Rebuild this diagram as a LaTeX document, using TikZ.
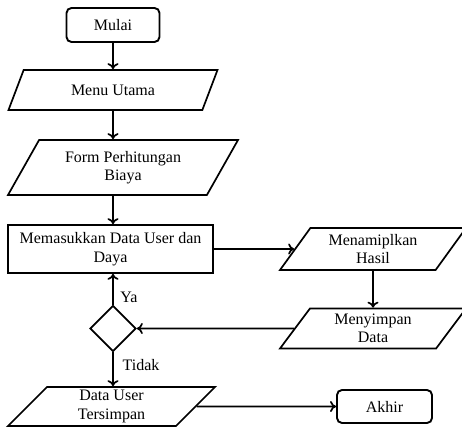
\documentclass[tikz,border=0pt]{standalone}
\usepackage{fontspec}
\setmainfont{Liberation Serif}
\usetikzlibrary{shapes.geometric,arrows.meta}

\begin{document}
\begin{tikzpicture}[x=1pt,y=-1pt,
    every node/.style={font=\fontsize{16}{18.5}\selectfont, align=center, text=black},
    terminal/.style={draw, rounded corners=5pt, line width=1.9pt, minimum width=93pt, minimum height=34pt},
    proses/.style={draw, line width=1.7pt, minimum width=205pt, minimum height=48pt},
    io/.style={draw, line width=1.7pt, trapezium, trapezium stretches body, inner sep=2pt},
    keputusan/.style={draw, diamond, line width=1.7pt, minimum width=46pt, minimum height=46pt, inner sep=0pt},
    panah/.style={-{To[length=6pt,width=11pt]}, line width=1.7pt}]
    \useasboundingbox (0,0) rectangle (462,427);
    \node[terminal] (mulai) at (113,25) {Mulai};
    \node[io, trapezium left angle=44, trapezium right angle=136, minimum width=209pt, minimum height=40pt] (menu) at (113,90) {Menu Utama};
    \node[io, trapezium left angle=50, trapezium right angle=130, minimum width=230pt, minimum height=55pt] (form) at (123,167.5) {Form Perhitungan\\Biaya};
    \node[proses] (input) at (110.5,249) {Memasukkan Data User dan\\Daya};
    \node[io, trapezium left angle=48, trapezium right angle=132, minimum width=186pt, minimum height=42pt] (tampil) at (373,249) {Menamiplkan\\Hasil};
    \node[io, trapezium left angle=48, trapezium right angle=132, minimum width=186pt, minimum height=40pt] (simpan) at (373,328.5) {Menyimpan\\Data};
    \node[keputusan] (cek) at (113,328.5) {};
    \node[io, trapezium left angle=43, trapezium right angle=137, minimum width=207pt, minimum height=39pt] (tersimpan) at (111.5,406.5) {Data User\\Tersimpan};
    \node[terminal, minimum width=95pt, minimum height=33pt] (akhir) at (384.5,406.5) {Akhir};
    \node (ya) at (129,297) {Ya};
    \node (tidak) at (141,365) {Tidak};
    \draw[panah] (mulai) -- (menu);
    \draw[panah] (menu.south) -- (menu.south |- form.north);
    \draw[panah] (menu.south |- form.south) -- (menu.south |- input.north);
    \draw[panah] (input) -- (tampil);
    \draw[panah] (tampil) -- (simpan);
    \draw[panah] (simpan) -- (cek);
    \draw[panah] (cek.north) -- (cek.north |- input.south);
    \draw[panah] (cek.south) -- (cek.south |- tersimpan.north);
    \draw[panah] (tersimpan) -- (akhir);
\end{tikzpicture}
\end{document}
